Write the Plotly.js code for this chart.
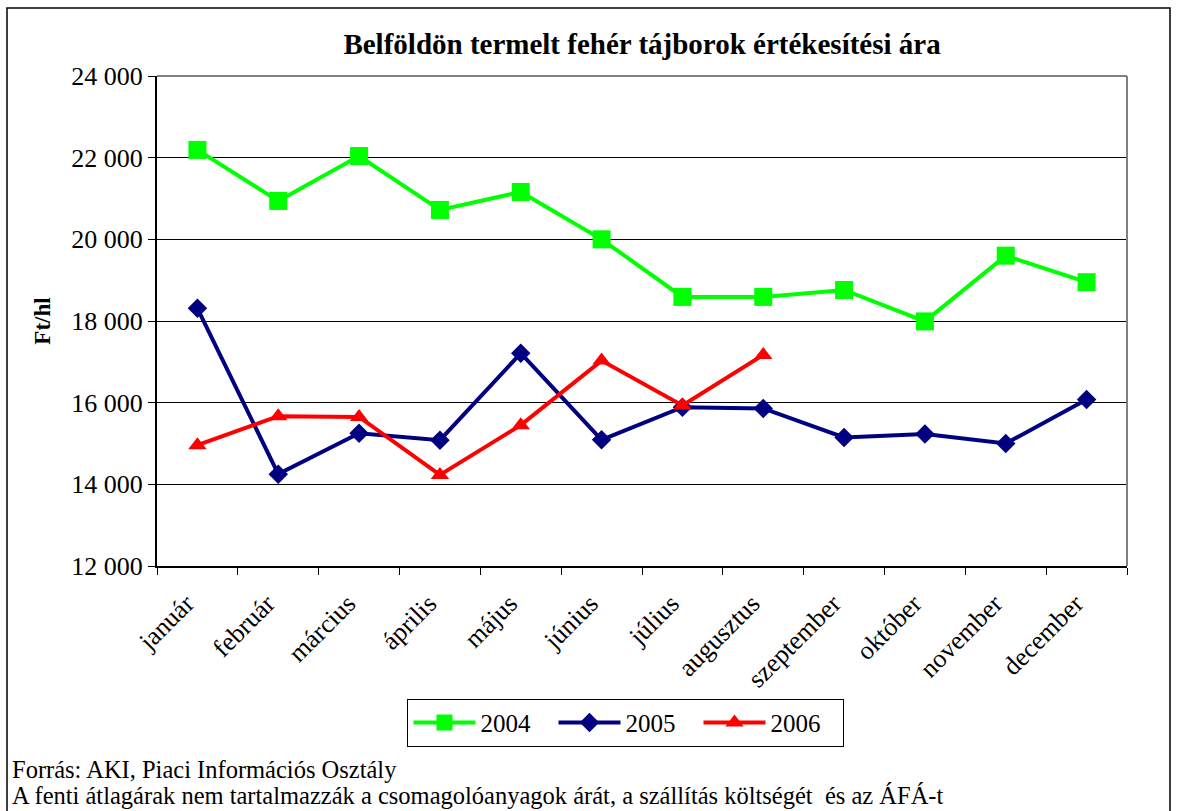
<!DOCTYPE html>
<html>
<head>
<meta charset="utf-8">
<script src="https://cdn.plot.ly/plotly-3.0.1.min.js"></script>
<style>
html,body{margin:0;padding:0;background:#fff;}
#chart{width:1177px;height:811px;}
</style>
</head>
<body>
<div id="chart"></div>
<script>
const months = ["január","február","március","április","május","június","július","augusztus","szeptember","október","november","december"];
const months2006 = ["január","február","március","április","május","június","július","augusztus"];
const values2004 = [22190, 20940, 22040, 20720, 21160, 20000, 18590, 18590, 18760, 17990, 19600, 18950];
const values2005 = [18310, 14250, 15250, 15080, 17210, 15090, 15890, 15860, 15150, 15230, 15000, 16080];
const values2006 = [14960, 15670, 15650, 14230, 15450, 17030, 15930, 17170];
const yTicks = [12000, 14000, 16000, 18000, 20000, 22000, 24000];
const yTickText = ["12 000","14 000","16 000","18 000","20 000","22 000","24 000"];

const serif = "'Liberation Serif', 'Times New Roman', serif";

const traces = [
  {x: months, y: values2004, name: "2004", type: "scatter", mode: "lines+markers",
   line: {color: "#00ff00", width: 4}, marker: {symbol: "square", size: 18, color: "#00ff00"}},
  {x: months, y: values2005, name: "2005", type: "scatter", mode: "lines+markers",
   line: {color: "#000080", width: 4}, marker: {symbol: "diamond", size: 15, color: "#000080"}},
  {x: months2006, y: values2006, name: "2006", type: "scatter", mode: "lines+markers",
   line: {color: "#ff0000", width: 4}, marker: {symbol: "triangle-up", size: 16, color: "#ff0000"}}
];

const layout = {
  width: 1177, height: 811,
  margin: {l: 157, r: 50, t: 76, b: 245, pad: 0},
  paper_bgcolor: "#fff", plot_bgcolor: "#fff",
  font: {family: serif, size: 24, color: "#000"},
  title: {text: "<b>Belföldön termelt fehér tájborok értékesítési ára</b>",
          font: {family: serif, size: 29, color: "#000"},
          x: 0.5455, xanchor: "center", y: 0.9457, yanchor: "middle"},
  xaxis: {type: "category", categoryorder: "array", categoryarray: months,
          range: [-0.5, 11.5], tickangle: -45, tickson: "boundaries",
          ticks: "outside", ticklen: 7, tickcolor: "#000", tickwidth: 1,
          ticklabelstandoff: 10, ticklabelshift: -11,
          showline: true, linecolor: "#000", linewidth: 2, mirror: false,
          showgrid: false, zeroline: false,
          tickfont: {family: serif, size: 26, color: "#000"}},
  yaxis: {range: [12000, 24000], tickvals: yTicks, ticktext: yTickText,
          ticks: "outside", ticklen: 7, tickcolor: "#000",
          showline: true, linecolor: "#000", linewidth: 2,
          showgrid: true, gridcolor: "#000", gridwidth: 1, zeroline: false,
          tickfont: {family: serif, size: 26, color: "#000"},
          title: {text: "<b>Ft/hl</b>", font: {family: serif, size: 23, color: "#000"}, standoff: 14}},
  showlegend: true,
  legend: {orientation: "h", x: 0.4835, xanchor: "center", y: -0.271, yanchor: "top",
           bordercolor: "#000", borderwidth: 1, bgcolor: "#fff",
           font: {family: serif, size: 25, color: "#000"},
           itemwidth: 62, entrywidth: 68, entrywidthmode: "pixels", tracegroupgap: 0},
  shapes: [
    {type: "line", xref: "paper", yref: "paper", x0: 1, x1: 1, y0: 0, y1: 1, line: {color: "#808080", width: 2}},
    {type: "line", xref: "paper", yref: "paper", x0: 0, x1: 1, y0: 1, y1: 1, line: {color: "#808080", width: 2}},
    {type: "rect", xref: "paper", yref: "paper",
     x0: (7-157)/970, x1: (1170-157)/970, y0: (566-830)/490, y1: (566-8)/490,
     line: {color: "#000", width: 1.5}, fillcolor: "rgba(0,0,0,0)", layer: "below"}
  ],
  annotations: [
    {text: "Forrás: AKI, Piaci Információs Osztály", xref: "paper", yref: "paper",
     x: (10-157)/970, y: (566-769)/490, xanchor: "left", yanchor: "middle", showarrow: false,
     font: {family: serif, size: 24.5, color: "#000"}},
    {text: "A fenti átlagárak nem tartalmazzák a csomagolóanyagok árát, a szállítás költségét  és az ÁFÁ-t", xref: "paper", yref: "paper",
     x: (10-157)/970, y: (566-795)/490, xanchor: "left", yanchor: "middle", showarrow: false,
     font: {family: serif, size: 24.5, color: "#000"}}
  ]
};

Plotly.newPlot("chart", traces, layout, {displayModeBar: false, staticPlot: true});
</script>
</body>
</html>
